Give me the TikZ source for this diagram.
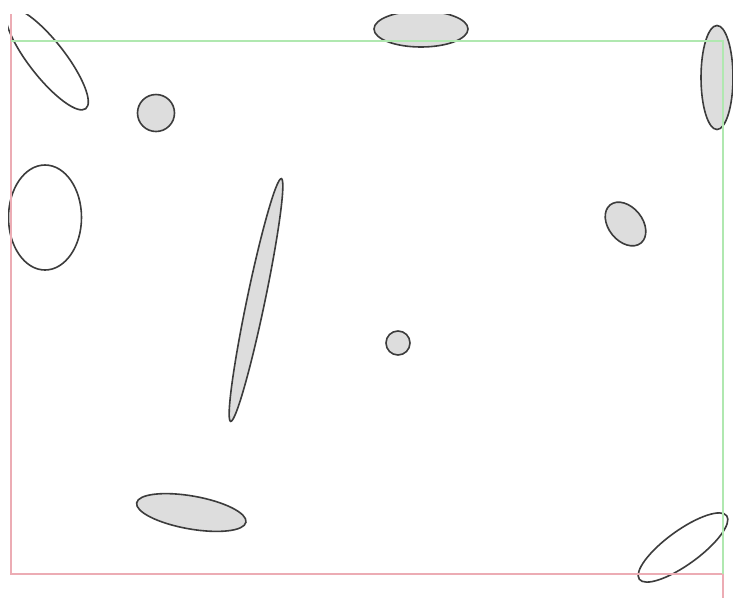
\documentclass[tikz,border=0pt]{standalone}
\usetikzlibrary{shapes.geometric}
\definecolor{edgered}{RGB}{236,172,180}
\definecolor{edgegreen}{RGB}{176,232,176}
\definecolor{blobfill}{RGB}{221,221,221}
\definecolor{blobline}{RGB}{60,60,60}
\tikzset{
  blob/.style={ellipse, draw=blobline, line width=1.6pt, inner sep=0pt, fill=blobfill},
  hollow/.style={ellipse, draw=blobline, line width=1.6pt, inner sep=0pt, fill=none},
  redline/.style={draw=edgered, line width=2pt},
  greenline/.style={draw=edgegreen, line width=2pt}
}
\begin{document}
\begin{tikzpicture}[x=1pt,y=-1pt]
\useasboundingbox[fill=white] (0,0) rectangle (733,598);
\begin{scope}
\clip (8,14) rectangle (735,600);
\node[hollow, minimum width=126pt, minimum height=36pt, rotate=-52] (tl) at (47,59) {};
\node[blob, minimum width=37pt, minimum height=37pt] (c1) at (156,113) {};
\node[hollow, minimum width=73pt, minimum height=105pt] (le) at (45,217.5) {};
\node[blob, minimum width=94pt, minimum height=36pt] (te) at (421,29) {};
\node[blob, minimum width=32pt, minimum height=104pt] (tr) at (717,77.5) {};
\node[blob, minimum width=49pt, minimum height=34pt, rotate=-51] (se) at (625.5,224) {};
\node[blob, minimum width=24pt, minimum height=24pt] (c2) at (398,343) {};
\node[blob, minimum width=248pt, minimum height=18pt, rotate=78.2] (th) at (256,300) {};
\node[blob, minimum width=111pt, minimum height=33pt, rotate=-10] (be) at (191.3,512.5) {};
\node[hollow, minimum width=108pt, minimum height=34pt, rotate=36] (br) at (683,547.5) {};
\end{scope}
\coordinate (rtop) at (11,14);
\coordinate (rcorner) at (11,574);
\coordinate (rright) at (723,574);
\coordinate (rend) at (723,598);
\coordinate (gleft) at (11,41);
\coordinate (gcorner) at (723,41);
\draw[redline] (rtop) -- (rcorner) -- (rright) -- (rend);
\draw[greenline] (gleft) -- (gcorner) -- (rright);
\end{tikzpicture}
\end{document}
